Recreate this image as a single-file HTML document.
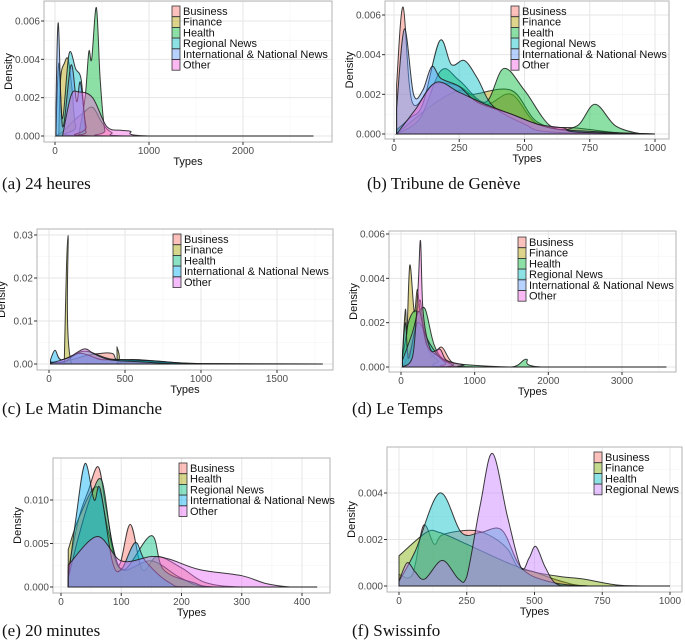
<!DOCTYPE html>
<html><head><meta charset="utf-8">
<style>
body{margin:0;background:#fff;width:685px;height:640px;overflow:hidden}
svg{position:absolute;left:0;top:0}
text{font-family:"Liberation Sans",sans-serif}
.cap{font-family:"Liberation Serif",serif;font-size:17px;fill:#111}
</style></head>
<body>
<svg id="fig" width="685" height="640" viewBox="0 0 685 640"></svg>
<script>
// ---- Data (x = Types, y = density in units of 0.001) ----
const aBusiness=[[10,0],[100,0.3],[200,0.8],[300,1.2],[400,1.5],[500,0.7],[600,0.2],[800,0],[2750,0]];
const aFinance=[[40,0],[60,3.0],[100,3.8],[140,4.0],[180,2.5],[220,0.5],[300,0],[2750,0]];
const aHealth=[[250,0],[320,2],[360,4.4],[390,4.0],[440,6.7],[480,3],[530,0.3],[600,0],[2750,0]];
const aRegional=[[10,0.2],[40,3.8],[80,0.9],[150,4.3],[220,3.5],[280,2.9],[330,0.2],[400,0],[2750,0]];
const aIntl=[[10,1.5],[35,5.9],[80,0.5],[170,3.7],[230,1.8],[270,2.8],[330,0.5],[400,0],[2750,0]];
const aOther=[[80,0],[170,2.1],[250,2.3],[400,2.0],[550,0.5],[700,0.3],[800,0.25],[1000,0],[2750,0]];

const bBusiness=[[10,2.5],[35,6.4],[70,1.6],[150,2.5],[250,2.4],[350,1.5],[450,2.0],[550,0.5],[700,0.3],[900,0],[1000,0]];
const bFinance=[[10,0],[150,1.5],[250,2.2],[300,2.0],[450,2.2],[550,0.6],[700,0.1],[1000,0]];
const bHealth=[[10,0],[100,0.8],[180,3.2],[250,2.7],[350,1.6],[420,3.3],[500,2.2],[600,0.4],[700,0.4],[770,1.5],[850,0.4],[950,0],[1000,0]];
const bRegional=[[10,0.2],[60,0.8],[110,1.5],[175,4.7],[220,3.5],[270,3.7],[320,2.8],[380,1.4],[500,0.5],[600,0.1],[1000,0]];
const bIntl=[[10,1.3],[40,5.3],[75,2.0],[110,2.2],[145,3.4],[180,2.8],[250,2.4],[320,1.6],[450,1.0],[600,0.3],[800,0.1],[1000,0]];
const bOther=[[10,0],[80,1.2],[160,2.6],[250,2.1],[350,1.5],[450,1.0],[550,0.5],[650,0.3],[700,0.1],[1000,0]];

const cBusiness=[[10,0],[150,1.0],[250,2.0],[350,2.5],[420,2.4],[480,0.5],[800,0.2],[1000,0],[1800,0]];
const cFinance=[[100,0],[125,29.9],[150,0],[440,0],[447,4],[455,0],[520,0.8],[800,0.3],[1000,0],[1800,0]];
const cHealth=[[10,0.5],[100,0.5],[230,3.0],[400,1.2],[600,1.0],[800,0.4],[1000,0.1],[1800,0]];
const cIntl=[[10,1.0],[40,3.2],[80,1.0],[200,2.5],[300,1.5],[350,1.0],[500,1.0],[700,0.7],[1000,0.1],[1800,0]];
const cOther=[[10,0.2],[130,1.5],[230,3.5],[300,2.3],[400,1.0],[600,0.5],[800,0.1],[1000,0],[1800,0]];

const dBusiness=[[20,0],[150,1],[250,3],[300,2],[400,0.5],[550,0.9],[700,0.2],[1000,0],[3600,0]];
const dFinance=[[20,0.6],[60,2.6],[80,1.5],[120,4.6],[180,2.5],[220,3.5],[260,2.5],[350,1],[500,0.3],[700,0],[3600,0]];
const dHealth=[[20,0.5],[50,1.0],[100,2.0],[170,2.5],[240,2.5],[330,2.6],[450,1.0],[600,0.3],[900,0.1],[1500,0],[1700,0.35],[1900,0],[3600,0]];
const dRegional=[[20,0.5],[60,2.0],[100,0.4],[180,1.5],[250,2.0],[400,1.0],[600,0.2],[800,0],[3600,0]];
const dIntl=[[20,0.3],[150,1.5],[250,2.5],[350,1.0],[500,0.5],[700,0.1],[900,0],[3600,0]];
const dOther=[[20,0],[160,0.5],[230,3.5],[265,5.7],[300,2.5],[400,0.8],[530,0.8],[620,0.3],[850,0.1],[1000,0],[3600,0]];

const eBusiness=[[12,2],[30,8],[45,11],[62,13.8],[75,9],[95,2.5],[115,7.2],[135,2],[160,3.5],[200,2.2],[240,0.5],[300,0],[425,0]];
const eHealth=[[12,4.3],[30,8],[60,11.5],[80,6],[100,2],[150,3],[200,1],[250,0],[425,0]];
const eRegional=[[12,1],[30,6],[50,10.5],[68,12.2],[85,5],[105,2],[150,5.9],[170,2],[220,0.5],[260,0],[425,0]];
const eIntl=[[12,1],[25,8],[40,14.2],[55,10],[65,11.3],[85,3],[100,2],[123,5.1],[140,3],[180,0.5],[220,0],[425,0]];
const eOther=[[12,2.5],[60,5.8],[100,3.0],[150,3.5],[180,3.2],[230,2.0],[300,1.3],[340,0.4],[380,0],[425,0]];

const fBusiness=[[0,0.5],[50,0.5],[90,2.6],[130,1.8],[160,2.2],[260,2.4],[330,2.2],[400,1.6],[440,0.8],[500,0.6],[600,0.2],[700,0],[1000,0]];
const fFinance=[[0,1.3],[100,2.3],[150,2.3],[250,1.8],[400,1.0],[500,0.6],[600,0.4],[680,0.3],[800,0.05],[900,0],[1000,0]];
const fHealth=[[0,0.2],[60,1.5],[150,4.0],[230,2.3],[300,2.3],[380,2.4],[450,0.8],[550,0.2],[700,0],[1000,0]];
const fRegional=[[0,0.2],[30,1.0],[60,0.6],[95,0.3],[160,1.1],[220,0.3],[250,0.4],[300,3.5],[345,5.7],[400,3],[450,0.8],[480,1.2],[505,1.7],[540,0.8],[580,0.1],[650,0],[1000,0]];

const ticksA=[0,1000,2000], ticksB=[0,250,500,750,1000], ticksC=[0,500,1000,1500], ticksD=[0,1000,2000,3000], ticksE=[0,100,200,300,400], ticksF=[0,250,500,750,1000];
const yTicks6=[0,2,4,6], yLab6=['0.000','0.002','0.004','0.006'];
const yTicksC=[0,10,20,30], yLabC=['0.00','0.01','0.02','0.03'];
const yTicksE=[0,5,10], yLabE=['0.000','0.005','0.010'];
const yTicksF=[0,2,4], yLabF=['0.000','0.002','0.004'];

const P6=['#F8766D','#B79F00','#00BA38','#00BFC4','#619CFF','#F564E3'];
const P5=['#F8766D','#A3A500','#00BF7D','#00B0F6','#E76BF3'];
const P4=['#F8766D','#7CAE00','#00BFC4','#C77CFF'];
const L6=['Business','Finance','Health','Regional News','International & National News','Other'];

const panels=[
 {id:'a',rect:[44,1,332,142],xm:[0,55,2000,243],ym:[0,136,6,21],xt:ticksA,yt:yTicks6,yl:yLab6,series:[aBusiness,aFinance,aHealth,aRegional,aIntl,aOther],names:L6,cols:P6,leg:[172,6],cap:'(a) 24 heures',capY:189},
 {id:'b',rect:[385,1,669,139],xm:[0,394,1000,655],ym:[0,134,6,15],xt:ticksB,yt:yTicks6,yl:yLab6,series:[bBusiness,bFinance,bHealth,bRegional,bIntl,bOther],names:L6,cols:P6,leg:[511,6],cap:'(b) Tribune de Genève',capY:189},
 {id:'c',rect:[37,229,333,370],xm:[0,49,1500,277],ym:[0,364,30,235],xt:ticksC,yt:yTicksC,yl:yLabC,series:[cBusiness,cFinance,cHealth,cIntl,cOther],names:['Business','Finance','Health','International & National News','Other'],cols:P5,leg:[173,234],cap:'(c) Le Matin Dimanche',capY:414},
 {id:'d',rect:[389,231,676,372],xm:[0,401,3000,622],ym:[0,367,6,234],xt:ticksD,yt:yTicks6,yl:yLab6,series:[dBusiness,dFinance,dHealth,dRegional,dIntl,dOther],names:L6,cols:P6,leg:[518,237],cap:'(d) Le Temps',capY:414},
 {id:'e',rect:[53,458,330,593],xm:[0,61,400,302],ym:[0,587,10,500],xt:ticksE,yt:yTicksE,yl:yLabE,series:[eBusiness,eHealth,eRegional,eIntl,eOther],names:['Business','Health','Regional News','International & National News','Other'],cols:P5,leg:[179,463],cap:'(e) 20 minutes',capY:636},
 {id:'f',rect:[387,447,682,592],xm:[0,399,1000,670],ym:[0,586,4,493],xt:ticksF,yt:yTicksF,yl:yLabF,series:[fBusiness,fFinance,fHealth,fRegional],names:['Business','Finance','Health','Regional News'],cols:P4,leg:[594,452],cap:'(f) Swissinfo',capY:636}
];

const NS='http://www.w3.org/2000/svg';
const fig=document.getElementById('fig');
function mk(tag,attrs,parent,txt){const e=document.createElementNS(NS,tag);for(const k in attrs)e.setAttribute(k,attrs[k]);if(txt!==undefined)e.textContent=txt;parent.appendChild(e);return e;}

panels.forEach(p=>{
 const sx=v=>p.xm[1]+(v-p.xm[0])*(p.xm[3]-p.xm[1])/(p.xm[2]-p.xm[0]);
 const sy=v=>p.ym[1]+(v-p.ym[0])*(p.ym[3]-p.ym[1])/(p.ym[2]-p.ym[0]);
 const [L,T,R,B]=p.rect;
 const g=mk('g',{},fig);
 
 
 const dxs=(p.xt[1]-p.xt[0])/2, dys=(p.yt[1]-p.yt[0])/2;
 // minor grid
 for(let v=p.xt[0]-dxs;v<=p.xt[p.xt.length-1]+dxs*3;v+=dxs){const x=sx(v);if(x>L&&x<R)mk('line',{x1:x,x2:x,y1:T,y2:B,stroke:'#f3f3f3','stroke-width':0.6},g);}
 for(let v=p.yt[0]-dys;v<=p.yt[p.yt.length-1]+dys*3;v+=dys){const y=sy(v);if(y>T&&y<B)mk('line',{x1:L,x2:R,y1:y,y2:y,stroke:'#f3f3f3','stroke-width':0.6},g);}
 p.xt.forEach(v=>mk('line',{x1:sx(v),x2:sx(v),y1:T,y2:B,stroke:'#e6e6e6','stroke-width':1},g));
 p.yt.forEach(v=>mk('line',{x1:L,x2:R,y1:sy(v),y2:sy(v),stroke:'#e6e6e6','stroke-width':1},g));
 // series
 p.series.forEach((s,i)=>{
  const pts=s.map(d=>[sx(d[0]),sy(d[1])]);
  let d='M'+pts[0][0]+','+sy(0)+' L'+pts[0][0]+','+pts[0][1];
  for(let k=0;k<pts.length-1;k++){
   const p0=pts[k-1]||pts[k],p1=pts[k],p2=pts[k+1],p3=pts[k+2]||p2;
   let c1y=p1[1]+(p2[1]-p0[1])/6, c2y=p2[1]-(p3[1]-p1[1])/6;
   const b=sy(0); c1y=Math.min(c1y,b); c2y=Math.min(c2y,b);
   d+=` C${p1[0]+(p2[0]-p0[0])/6},${c1y} ${p2[0]-(p3[0]-p1[0])/6},${c2y} ${p2[0]},${p2[1]}`;
  }
  d+=' L'+pts[pts.length-1][0]+','+sy(0)+' Z';
  const path=mk('path',{d:d,fill:p.cols[i],'fill-opacity':0.45,stroke:'#1a1a1a','stroke-width':1,'stroke-opacity':0.85},g);
  
  
 });
 mk('rect',{x:L,y:T,width:R-L,height:B-T,fill:'none',stroke:'#b3b3b3','stroke-width':1},g);
 // ticks
 p.xt.forEach(v=>{mk('line',{x1:sx(v),x2:sx(v),y1:B,y2:B+3,stroke:'#333'},g);
  const t=mk('text',{x:sx(v),y:B+12,'text-anchor':'middle','font-size':10,fill:'#4d4d4d'},g,String(v));
  });
 p.yt.forEach((v,i)=>{mk('line',{x1:L-3,x2:L,y1:sy(v),y2:sy(v),stroke:'#333'},g);
  const t=mk('text',{x:L-4,y:sy(v)+3.5,'text-anchor':'end','font-size':10,fill:'#4d4d4d'},g,p.yl[i]);
  });
 const xt=mk('text',{x:(L+R)/2,y:B+23,'text-anchor':'middle','font-size':11,fill:'#111'},g,'Types');
 
 const ylx=(p.id==='a'||p.id==='c'||p.id==='e')?(p.id==='e'?19:7):(p.id==='b'?345:351);
 const yt=mk('text',{x:0,y:0,transform:`translate(${L-32},${(T+B)/2}) rotate(-90)`,'text-anchor':'middle','font-size':11,fill:'#111'},g,'Density');
 
 // legend
 const lg=mk('g',{},g);
 
 
 const [lx,ly]=p.leg;
 p.names.forEach((n,i)=>{
  const y=ly+i*10.7;
  mk('rect',{x:lx,y:y,width:8,height:10.7,fill:p.cols[i],'fill-opacity':0.45,stroke:'#333','stroke-width':0.8},lg);
  const t=mk('text',{x:lx+11,y:y+9,'font-size':11,fill:'#111'},lg,n);
  
 });
 const cx=p.id==='a'||p.id==='c'||p.id==='e'?2:p.id==='b'?367:352;
 const c=mk('text',{x:cx,y:p.capY,class:'cap'},g,p.cap);
 
});
</script>
</body></html>
